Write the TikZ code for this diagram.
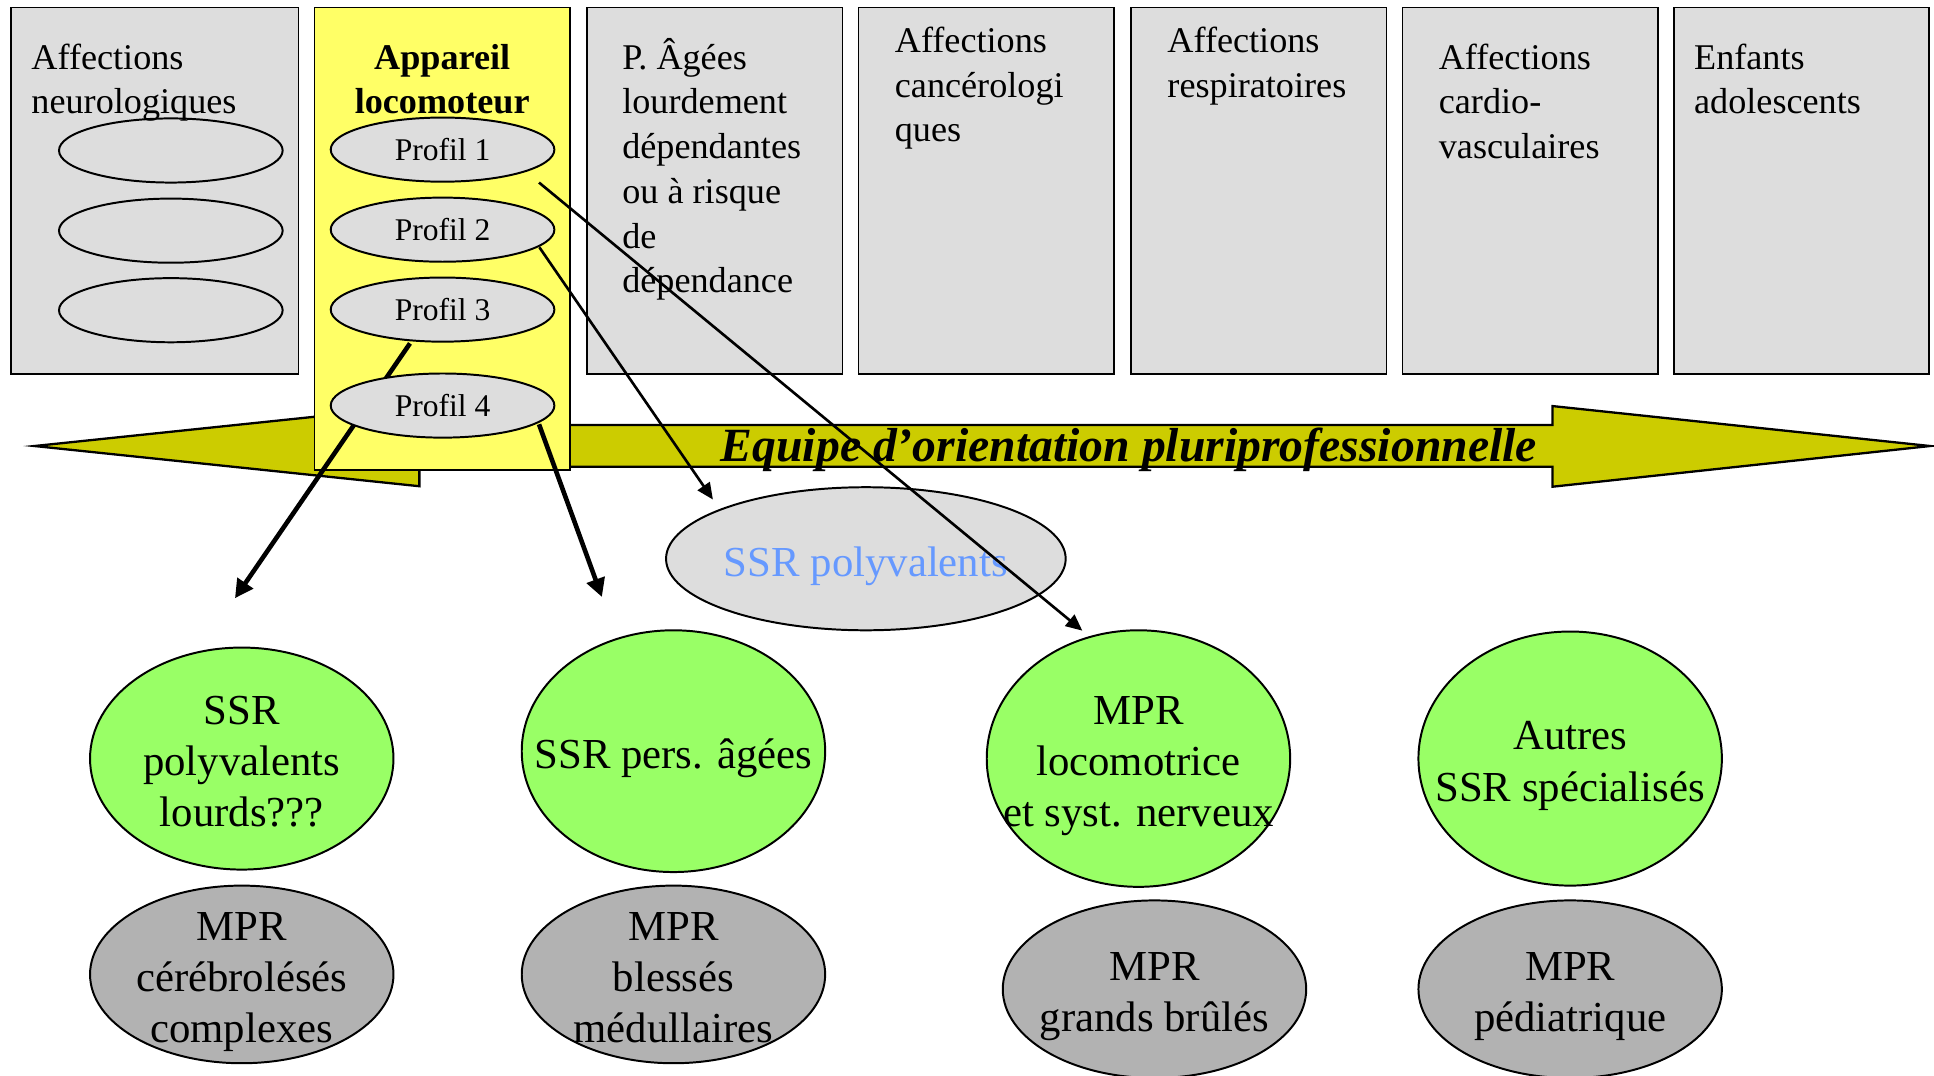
\documentclass[tikz,border=0pt]{standalone}
\usepackage{fontspec}
\setmainfont{Liberation Serif}
\usetikzlibrary{arrows.meta,shapes.geometric,calc}

\definecolor{boxgray}{HTML}{DDDDDD}
\definecolor{locoyellow}{HTML}{FFFF66}
\definecolor{bandolive}{HTML}{CCCC00}
\definecolor{ssrgreen}{HTML}{99FF66}
\definecolor{mprgray}{HTML}{B2B2B2}
\definecolor{polyblue}{HTML}{6699FF}

% fixed-height strut so every box text starts on the same baseline
\newcommand\firststrut{\rule{0pt}{10.5pt}}
% line strut for the structure labels (ascent 11.6pt, descent 2.8pt)
\newcommand\ls{\rule[-2.8pt]{0pt}{14.4pt}}

\begin{document}
\begin{tikzpicture}[x=0.375pt,y=-0.375pt,
  domainbox/.style={draw=black,line width=0.5pt,fill=boxgray,rectangle,
    inner sep=0pt,minimum width=77.6pt,minimum height=111.4pt},
  locobox/.style={draw=black,line width=0.5pt,fill=locoyellow,rectangle,
    inner sep=0pt,minimum width=77.6pt,minimum height=140.6pt},
  boxtext/.style={anchor=north west,inner sep=0pt,align=left,
    font=\fontsize{11}{13.6}\selectfont},
  profil/.style={draw=black,line width=0.6pt,fill=boxgray,ellipse,inner sep=0pt,
    minimum width=68pt,minimum height=19.5pt,font=\fontsize{9.6}{11}\selectfont},
  band/.style={draw=black,line width=0.7pt,fill=bandolive},
  bandlabel/.style={inner sep=0pt,font=\fontsize{14.5}{16}\selectfont\bfseries\itshape},
  ssr/.style={draw=black,line width=0.6pt,fill=ssrgreen,ellipse,inner sep=0pt,
    minimum width=92.25pt},
  mpr/.style={draw=black,line width=0.6pt,fill=mprgray,ellipse,inner sep=0pt,
    minimum width=92.25pt,minimum height=54pt},
  poly/.style={draw=black,line width=0.6pt,fill=boxgray,ellipse,inner sep=0pt,
    minimum width=121.5pt,minimum height=43.5pt},
  bigtext/.style={inner sep=0pt,align=center,yshift=-0.75pt,
    font=\fontsize{13}{15.6}\selectfont},
  thinarrow/.style={line width=0.8pt,-{Triangle[length=5pt,width=4.4pt]}},
  thickarrow/.style={line width=1.4pt,-{Triangle[length=5.6pt,width=5.6pt]}}]

\useasboundingbox (0,0) rectangle (1568,872);
\clip (0,0) rectangle (1568,872);

% ---- domain columns ----
\node[domainbox,minimum width=87.4pt] (b1) at (125.5,154.5) {};
\node[domainbox] (b3) at (579.5,154.5) {};
\node[domainbox] (b4) at (799.5,154.5) {};
\node[domainbox] (b5) at (1020.5,154.5) {};
\node[domainbox] (b6) at (1240.5,154.5) {};
\node[domainbox] (b7) at (1460.5,154.5) {};

\node[profil] (n1) at (138.5,122) {};
\node[profil] (n2) at (138.5,187) {};
\node[profil] (n3) at (138.5,251.5) {};

% ---- orientation band ----
\draw[band] (28,361.6) -- (340,329) -- (340,344.6) -- (1258.6,344.6)
  -- (1258.6,329.2) -- (1564.8,361.6) -- (1258.6,394.6) -- (1258.6,378.4)
  -- (340,378.4) -- (340,394.2) -- cycle;
\node[bandlabel,anchor=base west] (eq) at (583.8,374.3)
  {Equipe d’orientation pluriprofessionnelle};

% ---- locomotor column ----
\node[locobox] (b2) at (358.5,193.5) {};

\node[boxtext] (t1) at (25,27.5) {\firststrut Affections\\neurologiques};
\node[boxtext,anchor=north,align=center,font=\fontsize{11}{13.6}\selectfont\bfseries]
  (t2) at (358.5,27.5) {\firststrut Appareil\\locomoteur};
\node[boxtext] (t3) at (504,27.5)
  {\firststrut P. Âgées\\lourdement\\dépendantes\\ou à risque\\de\\dépendance};
\node[boxtext] (t4) at (725,14) {\firststrut Affections\\cancérologi\\ques};
\node[boxtext] (t5) at (946,14) {\firststrut Affections\\respiratoires};
\node[boxtext] (t6) at (1166,27.5) {\firststrut Affections\\cardio-\\vasculaires};
\node[boxtext] (t7) at (1373,27.5) {\firststrut Enfants\\adolescents};

\node[profil] (p1) at (358.8,121.3) {Profil 1};
\node[profil] (p2) at (358.8,186.2) {Profil 2};
\node[profil] (p3) at (358.8,251) {Profil 3};

% ---- care structures ----
\node[poly] (pv) at (702,453) {};
\node[inner sep=0pt,font=\fontsize{13}{15.6}\selectfont,text=polyblue,yshift=-2.25pt]
  (pvt) at (pv) {SSR polyvalents};

\node[ssr,minimum height=67.5pt] (e1) at (196,615) {};
\node[bigtext] (e1t) at (e1) {\ls SSR\\\ls polyvalents\\\ls lourds???};
\node[ssr,minimum height=73.5pt] (e2) at (546,609) {};
\node[bigtext] (e2t) at (e2) {\ls SSR pers. âgées};
\node[ssr,minimum height=78pt] (e3) at (923,615) {};
\node[bigtext] (e3t) at (e3) {\ls MPR\\\ls locomotrice\\\ls et syst. nerveux};
\node[ssr,minimum height=77.25pt] (e4) at (1273,615) {};
\node[bigtext] (e4t) at (e4) {\ls Autres\\\ls SSR spécialisés};

\node[mpr] (g1) at (196,790) {};
\node[bigtext] (g1t) at (g1) {\ls MPR\\\ls cérébrolésés\\\ls complexes};
\node[mpr] (g2) at (546,790) {};
\node[bigtext] (g2t) at (g2) {\ls MPR\\\ls blessés\\\ls médullaires};
\node[mpr] (g3) at (936,802) {};
\node[bigtext] (g3t) at (g3) {\ls MPR\\\ls grands brûlés};
\node[mpr] (g4) at (1273,802) {};
\node[bigtext] (g4t) at (g4) {\ls MPR\\\ls pédiatrique};

% ---- orientation connectors ----
\coordinate (s1) at ($(p1.center)+(78.2,26.7)$);
\coordinate (d1) at ($(e3.center)+(-45.5,-103.7)$);
\coordinate (s2) at ($(p2.center)+(78.5,14.3)$);
\coordinate (d2) at ($(pv.center)+(-124,-48)$);
\coordinate (s3) at ($(p3.center)+(-26.4,27.4)$);
\coordinate (d3) at ($(e1.center)+(-5.5,-130)$);

\draw[thickarrow] (s3) -- (d3);

\node[profil] (p4) at (358.8,328.8) {Profil 4};

\coordinate (s4) at ($(p4.center)+(78.2,15.2)$);
\coordinate (d4) at ($(e2.center)+(-58,-125)$);

\draw[thickarrow] (s4) -- (d4);
\draw[thinarrow] (s2) -- (d2);
\draw[thinarrow] (s1) -- (d1);

\end{tikzpicture}
\end{document}
